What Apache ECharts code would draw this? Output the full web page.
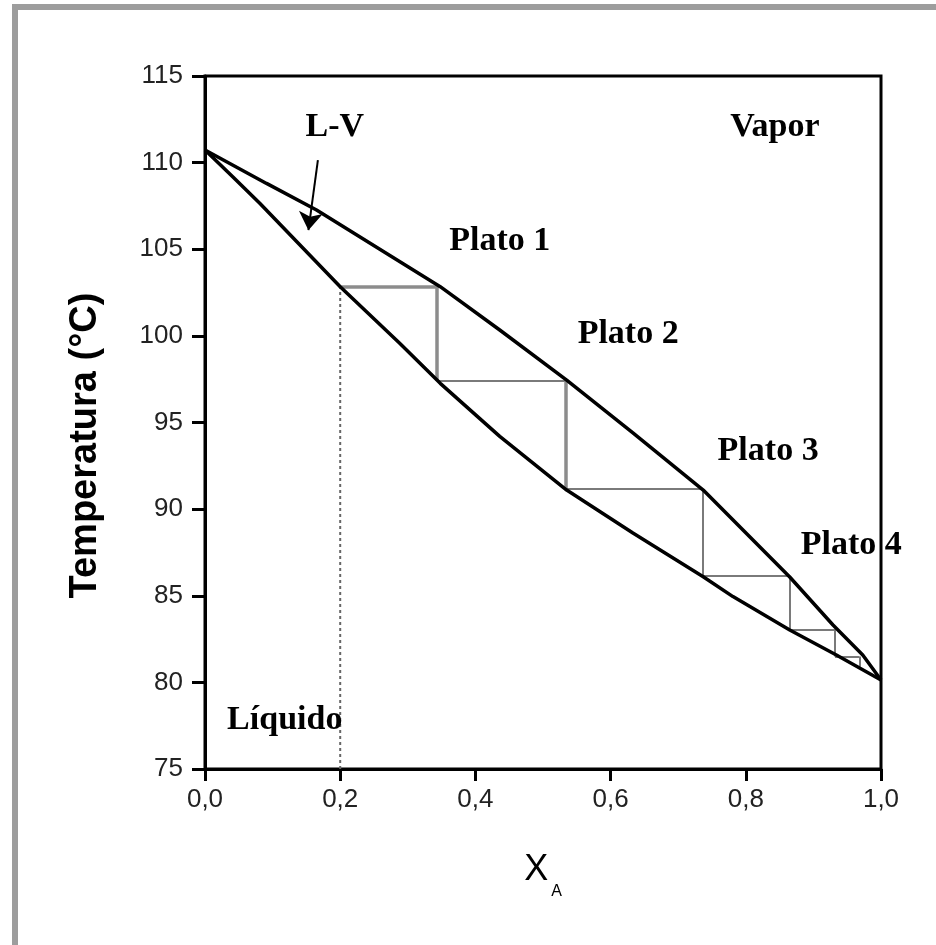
<!DOCTYPE html>
<html>
<head>
<meta charset="utf-8">
<title>Temperatura vs XA</title>
<script src="https://cdn.jsdelivr.net/npm/echarts@6/dist/echarts.min.js"></script>
<style>
  html, body { margin: 0; padding: 0; background: #fff; }
  #frame {
    position: absolute; left: 12px; top: 4px; right: 0; bottom: 0;
    border-left: 6px solid #9d9d9d; border-top: 6px solid #9d9d9d;
  }
  #chart { position: absolute; left: 0; top: 0; width: 936px; height: 945px; }
</style>
</head>
<body>
<div id="frame"></div>
<div id="chart"></div>
<script>
// curva de vapor (rocío)
const vaporX = [0, 0.091, 0.165, 0.348, 0.436, 0.535, 0.633, 0.737, 0.865, 0.929, 0.973, 1.0];
const vaporT = [110.73, 108.8, 107.27, 102.84, 100.34, 97.45, 94.4, 91.1, 86.08, 83.31, 81.58, 80.14];

// curva de líquido (burbuja)
const liquidX = [0, 0.041, 0.081, 0.2, 0.288, 0.348, 0.436, 0.535, 0.633, 0.737, 0.781, 0.865, 0.934, 1.0];
const liquidT = [110.73, 109.19, 107.65, 102.84, 99.57, 97.26, 94.2, 91.1, 88.62, 86.1, 84.95, 83.02, 81.58, 80.14];

// escalones (platos)
const stageX = [0.2, 0.343, 0.533, 0.737, 0.865, 0.932, 0.968];
const stageT = [102.85, 97.4, 91.15, 86.15, 83.05, 81.5, 80.9];

// anotaciones
const noteText = ['L-V', 'Vapor', 'Plato 1', 'Plato 2', 'Plato 3', 'Plato 4', 'Líquido'];
const noteX = [0.192, 0.843, 0.436, 0.626, 0.833, 0.956, 0.118];
const noteT = [112.03, 112.03, 105.45, 100.08, 93.33, 87.91, 77.83];

// flecha L-V
const arrowFrom = [0.167, 110.15];
const arrowTo = [0.153, 106.1];

const xTicks = [0, 0.2, 0.4, 0.6, 0.8, 1.0];
const yTicks = [75, 80, 85, 90, 95, 100, 105, 110, 115];

const zip = (a, b) => a.map((v, i) => [v, b[i]]);

// segmentos de la escalera
const stepSegs = [];
for (let i = 0; i < stageX.length - 1; i++) {
  stepSegs.push([[stageX[i], stageT[i]], [stageX[i + 1], stageT[i]]]);
  stepSegs.push([[stageX[i + 1], stageT[i]], [stageX[i + 1], stageT[i + 1]]]);
}
const thick = [0, 1, 3];

const chart = echarts.init(document.getElementById('chart'));
chart.setOption({
  animation: false,
  backgroundColor: 'transparent',
  grid: {
    left: 205, right: 55, top: 76, bottom: 176,
    show: true, borderColor: '#000', borderWidth: 3
  },
  xAxis: {
    type: 'value', min: 0, max: 1, interval: 0.2,
    name: '{x|X}{a|A}', nameLocation: 'middle', nameGap: 71,
    nameTextStyle: {
      rich: {
        x: { fontFamily: 'Liberation Sans', fontSize: 36, color: '#000' },
        a: { fontFamily: 'Liberation Sans', fontSize: 16, color: '#000', padding: [44, 0, 0, 3] }
      }
    },
    axisLine: { lineStyle: { color: '#000', width: 3 } },
    axisTick: { length: 12, lineStyle: { color: '#000', width: 3 } },
    axisLabel: {
      margin: 18, fontFamily: 'Liberation Sans', fontSize: 26, color: '#222',
      formatter: v => xTicks.includes(+v.toFixed(1)) ? v.toFixed(1).replace('.', ',') : ''
    },
    splitLine: { show: false }
  },
  yAxis: {
    type: 'value', min: 75, max: 115, interval: 5,
    name: 'Temperatura (°C)', nameLocation: 'middle', nameGap: 100,
    nameTextStyle: {
      fontFamily: 'Liberation Sans', fontSize: 38, fontWeight: 'bold', color: '#000',
      padding: [0, 46, 0, 0]
    },
    axisLine: { lineStyle: { color: '#000', width: 3 } },
    axisTick: { length: 13, lineStyle: { color: '#000', width: 3 } },
    axisLabel: {
      margin: 22, fontFamily: 'Liberation Sans', fontSize: 26, color: '#222',
      formatter: v => yTicks.includes(v) ? String(v) : ''
    },
    splitLine: { show: false }
  },
  series: [
    {
      name: 'escalones', type: 'lines', coordinateSystem: 'cartesian2d', z: 2,
      symbol: ['none', 'none'],
      data: stepSegs.map((c, i) => ({
        coords: c,
        lineStyle: {
          color: thick.includes(i) ? '#8c8c8c' : '#7a7a7a',
          width: thick.includes(i) ? 3.5 : 2, opacity: 1
        }
      }))
    },
    {
      name: 'alimentación', type: 'line', z: 2, symbol: 'none',
      data: [[stageX[0], 75], [stageX[0], stageT[0]]],
      lineStyle: { color: '#666', width: 2, type: [3, 3] }
    },
    {
      name: 'vapor', type: 'line', z: 3, symbol: 'none', data: zip(vaporX, vaporT),
      lineStyle: { color: '#000', width: 3.5 }
    },
    {
      name: 'líquido', type: 'line', z: 3, symbol: 'none', data: zip(liquidX, liquidT),
      lineStyle: { color: '#000', width: 3.5 }
    },
    {
      name: 'flecha', type: 'lines', coordinateSystem: 'cartesian2d', z: 4,
      symbol: ['none', 'arrow'], symbolSize: 18,
      lineStyle: { color: '#000', width: 2, opacity: 1 },
      data: [{ coords: [arrowFrom, arrowTo] }]
    },
    {
      name: 'notas', type: 'scatter', z: 5, symbolSize: 0, silent: true,
      data: noteX.map((x, i) => ({ value: [x, noteT[i]], name: noteText[i] })),
      label: {
        show: true, position: 'inside', formatter: p => p.name,
        fontFamily: 'Liberation Serif', fontWeight: 'bold', fontSize: 34,
        color: '#000', textBorderWidth: 0, opacity: 1
      }
    }
  ]
});
</script>
</body>
</html>
